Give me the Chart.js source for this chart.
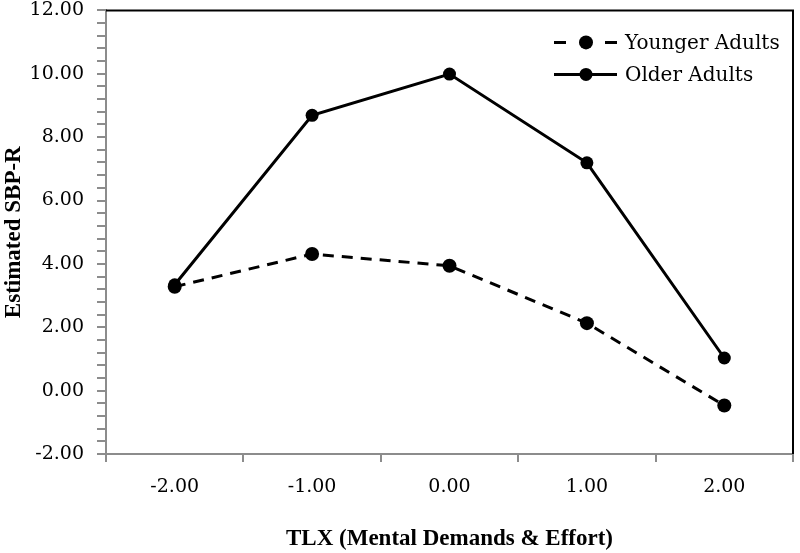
<!DOCTYPE html>
<html>
<head>
<meta charset="utf-8">
<script src="https://cdn.jsdelivr.net/npm/chart.js@4.4.1/dist/chart.umd.min.js"></script>
<style>
  html, body { margin: 0; padding: 0; background: #fff; }
  #wrap { width: 800px; height: 553px; position: relative; overflow: hidden; }
  /* pull the canvas up so the plot frame sits close to the top edge */
  #inner { position: absolute; left: 0; top: -14px; width: 800px; height: 567px; }
</style>
</head>
<body>
<div id="wrap"><div id="inner"><canvas id="myChart"></canvas></div></div>
<script>
// data
const xLabels = ['-2.00', '-1.00', '0.00', '1.00', '2.00'];
const youngerValues = [3.28, 4.31, 3.94, 2.13, -0.47];
const olderValues = [3.34, 8.69, 9.99, 7.19, 1.03];
const seriesNames = ['Younger Adults', 'Older Adults'];
const yMin = -2, yMax = 12, yMajorStep = 2, yMinorStep = 0.4;

const tickFont = { family: 'DejaVu Serif', size: 19 };
const legendFont = { family: 'DejaVu Serif', size: 20 };
const titleFont = { family: 'Liberation Serif', size: 23, weight: 'bold' };
const axisGray = '#8c8c8c';

/*--------------------- legend drawn inside the plot ---------------------*/
const insideLegend = {
  id: 'insideLegend',
  afterDraw(chart) {
    const { ctx, chartArea } = chart;
    const x0 = chartArea.right - 239;
    ctx.save();
    chart.data.datasets.forEach((ds, i) => {
      const y = chartArea.top + 32 + i * 32;
      ctx.strokeStyle = ds.borderColor;
      ctx.lineWidth = ds.borderWidth;
      ctx.setLineDash(ds.borderDash && ds.borderDash.length ? [12, 39] : []);
      ctx.beginPath();
      ctx.moveTo(x0, y);
      ctx.lineTo(x0 + 63, y);
      ctx.stroke();
      ctx.setLineDash([]);
      ctx.fillStyle = ds.pointBackgroundColor;
      ctx.beginPath();
      ctx.arc(x0 + 32, y, ds.pointRadius, 0, Math.PI * 2);
      ctx.fill();
      ctx.fillStyle = '#000';
      ctx.font = `${legendFont.size}px "${legendFont.family}"`;
      ctx.textBaseline = 'middle';
      ctx.fillText(ds.label, x0 + 71, y + 1);
    });
    ctx.restore();
  }
};

/*--------------------- black frame on top and right ---------------------*/
const frame = {
  id: 'frame',
  afterDraw(chart) {
    const { ctx, chartArea: a } = chart;
    ctx.save();
    ctx.strokeStyle = '#000';
    ctx.lineWidth = 2;
    ctx.beginPath();
    ctx.moveTo(a.left, a.top);
    ctx.lineTo(a.right, a.top);
    ctx.lineTo(a.right, a.bottom);
    ctx.stroke();
    ctx.restore();
  }
};

const chart = new Chart(document.getElementById('myChart').getContext('2d'), {
  type: 'line',
  data: {
    labels: xLabels,
    datasets: [
      {
        label: seriesNames[0],
        data: youngerValues,
        borderColor: '#000',
        borderWidth: 3,
        borderDash: [11, 8],
        pointRadius: 7,
        pointBackgroundColor: '#000',
        pointBorderWidth: 0,
        tension: 0
      },
      {
        label: seriesNames[1],
        data: olderValues,
        borderColor: '#000',
        borderWidth: 3,
        borderDash: [],
        pointRadius: 6.5,
        pointBackgroundColor: '#000',
        pointBorderWidth: 0,
        tension: 0
      }
    ]
  },
  options: {
    responsive: true,
    maintainAspectRatio: false,
    animation: false,
    layout: { padding: { top: 8, right: 2, left: 0, bottom: 0 } },
    plugins: {
      legend: { display: false },
      tooltip: { enabled: false }
    },
    scales: {
      x: {
        type: 'category',
        offset: true,
        grid: {
          offset: true,
          drawOnChartArea: false,
          drawTicks: true,
          tickLength: 8,
          color: axisGray,
          lineWidth: 2
        },
        border: { color: axisGray, width: 2 },
        ticks: { color: '#000', font: tickFont, padding: 14, maxRotation: 0 },
        title: {
          display: true,
          text: 'TLX (Mental Demands & Effort)',
          color: '#000',
          font: titleFont,
          padding: { top: 20, bottom: 0 }
        },
        afterFit(scale) { scale.height = 99; }
      },
      y: {
        min: yMin,
        max: yMax,
        grid: {
          drawOnChartArea: false,
          drawTicks: true,
          tickLength: 9,
          color: axisGray,
          lineWidth: 2
        },
        border: { color: axisGray, width: 2 },
        ticks: {
          stepSize: yMinorStep,
          autoSkip: false,
          color: '#000',
          font: tickFont,
          padding: 13,
          callback(value) {
            const v = Math.round(value * 100) / 100;
            const r = Math.abs(v / yMajorStep - Math.round(v / yMajorStep));
            return r < 1e-6 ? v.toFixed(2) : '';
          }
        },
        title: {
          display: true,
          text: 'Estimated SBP-R',
          color: '#000',
          font: titleFont,
          padding: { top: 0, bottom: 0 }
        },
        afterFit(scale) { scale.width = 106; }
      }
    }
  },
  plugins: [insideLegend, frame]
});
</script>
</body>
</html>
